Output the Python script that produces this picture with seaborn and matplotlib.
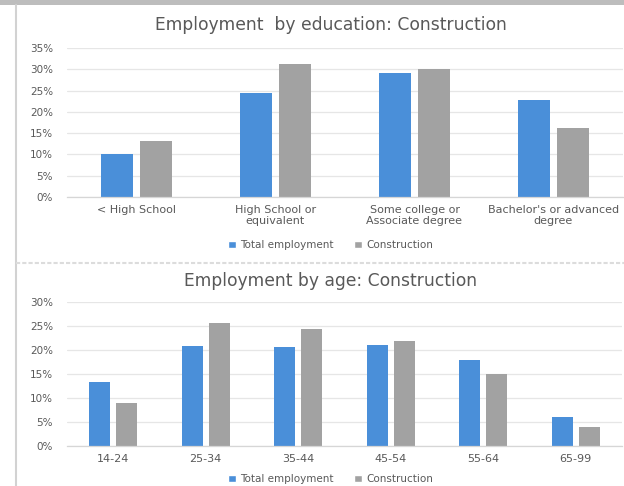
import matplotlib
matplotlib.use("Agg")
import matplotlib.pyplot as plt
from matplotlib.patches import Patch, Rectangle
from matplotlib.lines import Line2D
import pandas as pd
import seaborn as sns

# ---- data -------------------------------------------------------------
series_names = ["Total employment", "Construction"]

edu_categories = ["< High School", "High School or\nequivalent",
                  "Some college or\nAssociate degree",
                  "Bachelor's or advanced\ndegree"]
edu_total = [10.1, 24.4, 29.2, 22.7]
edu_construction = [13.1, 31.2, 30.1, 16.3]
edu_ticks = [0, 5, 10, 15, 20, 25, 30, 35]

age_categories = ["14-24", "25-34", "35-44", "45-54", "55-64", "65-99"]
age_total = [13.4, 20.9, 20.6, 21.1, 18.0, 6.1]
age_construction = [8.9, 25.7, 24.5, 21.9, 15.0, 4.0]
age_ticks = [0, 5, 10, 15, 20, 25, 30]

BLUE = "#4a8fd9"
GRAY = "#a2a2a2"
TEXT = "#595959"
GRID = "#e6e6e6"


def long_frame(cats, total, constr):
    return pd.DataFrame({
        "category": list(cats) * 2,
        "series": [series_names[0]] * len(cats) + [series_names[1]] * len(cats),
        "value": list(total) + list(constr),
    })


sns.set_theme(style="white")
plt.rcParams["font.family"] = ["DejaVu Sans"]

fig = plt.figure(figsize=(6.24, 4.86), dpi=100)

# window-like frame around the two charts
fig.patches.append(Rectangle((0, 1 - 5 / 486), 1, 5 / 486, transform=fig.transFigure,
                             facecolor="#bdbdbd", edgecolor="none", zorder=0))
fig.lines.append(Line2D([16 / 624, 16 / 624], [0, 1 - 5 / 486], transform=fig.transFigure,
                        color="#d2d2d2", lw=1.5))
fig.lines.append(Line2D([16 / 624, 1], [1 - 263 / 486] * 2, transform=fig.transFigure,
                        color="#dcdcdc", lw=1.5, ls=(0, (2, 1))))


def draw_panel(rect, cats, total, constr, ticks, width, gap, title, title_y, legend_y):
    ax = fig.add_axes(rect)
    df = long_frame(cats, total, constr)
    sns.barplot(data=df, x="category", y="value", hue="series",
                order=cats, hue_order=series_names,
                palette=[BLUE, GRAY], width=width, gap=gap,
                saturation=1, edgecolor="none", legend=False, ax=ax)
    ax.set_ylim(ticks[0], ticks[-1])
    ax.set_yticks(ticks)
    ax.set_yticklabels([f"{t}%" for t in ticks])
    ax.set_xlabel("")
    ax.set_ylabel("")
    ax.grid(axis="y", color=GRID, lw=0.9)
    ax.set_axisbelow(True)
    for s in ["top", "right", "left"]:
        ax.spines[s].set_visible(False)
    ax.spines["bottom"].set_color("#d6d6d6")
    ax.spines["bottom"].set_linewidth(0.9)
    ax.tick_params(axis="y", length=0, pad=10, labelsize=7.5, labelcolor=TEXT)
    ax.tick_params(axis="x", length=0, pad=6, labelsize=8, labelcolor=TEXT)
    for lab in ax.get_xticklabels():
        lab.set_linespacing(1.05)
    fig.text(0.53, title_y, title, ha="center", va="center",
             fontsize=12.3, color=TEXT)
    handles = [Patch(facecolor=BLUE), Patch(facecolor=GRAY)]
    fig.legend(handles, series_names, loc="center", bbox_to_anchor=(0.53, legend_y),
               ncol=2, frameon=False, fontsize=7.5, labelcolor=TEXT,
               handlelength=0.75, handleheight=0.75, handletextpad=0.4,
               columnspacing=2.0)
    return ax


draw_panel([67 / 624, 1 - 197 / 486, 556 / 624, 149 / 486],
           edu_categories, edu_total, edu_construction, edu_ticks,
           0.56, 0.2, "Employment  by education: Construction", 1 - 25 / 486, 1 - 245 / 486)

draw_panel([67 / 624, 1 - 445.7 / 486, 555 / 624, 143.4 / 486],
           age_categories, age_total, age_construction, age_ticks,
           0.585, 0.22, "Employment by age: Construction", 1 - 281 / 486, 1 - 479 / 486)

fig.savefig("out.png", dpi=100)
